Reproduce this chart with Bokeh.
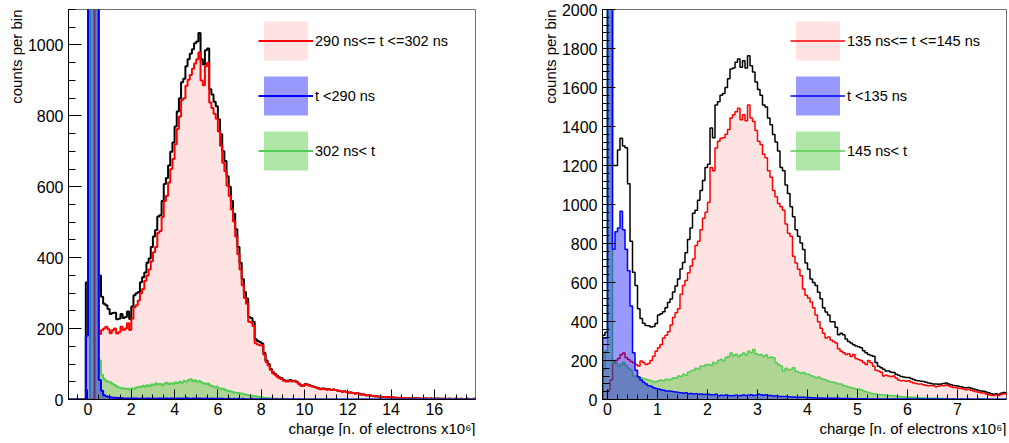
import numpy as np
from bokeh.plotting import figure
from bokeh.layouts import row
from bokeh.models import Range1d, SingleIntervalTicker, Title, Legend, LegendItem
from bokeh.embed import file_html
from bokeh.resources import INLINE

# ---------------- data: left panel (bins of 0.1 starting at -1.0) ----------------
L_EDGE_START = -1.0
L_BIN_WIDTH = 0.1
L_LABELS = ["290 ns<= t <=302 ns", "t <290 ns", "302 ns< t"]

L_TOTAL = [
    0, 0, 0, 0, 0, 0, 0, 0, 0, 330,
    3000, 3000, 3000, 3000, 3000, 350, 290, 270, 266, 255,
    241, 244, 245, 226, 228, 241, 230, 233, 248, 227,
    262, 294, 300, 303, 331, 345, 358, 386, 398, 430,
    460, 478, 516, 520, 560, 608, 625, 660, 699, 725,
    770, 812, 850, 895, 905, 940, 960, 975, 988, 1005,
    1010, 1034, 960, 945, 985, 990, 875, 860, 840, 827,
    790, 748, 700, 673, 630, 600, 560, 524, 480, 430,
    386, 340, 303, 285, 233, 230, 219, 170, 165, 162,
    158, 131, 110, 100, 86, 77, 72, 66, 62, 60,
    55, 53, 53, 55, 52, 53, 50, 45, 40, 39,
    44, 42, 40, 38, 36, 34, 32, 30, 31, 30,
    28, 29, 27, 28, 27, 25, 24, 22, 23, 21,
    20, 20, 18, 17, 18, 15, 14, 14, 12, 12,
    11, 10, 9, 9, 8, 8, 7, 7, 6, 6,
    6, 5, 5, 4, 5, 4, 4, 3, 4, 3,
    3, 4, 3, 3, 2, 3, 3, 2, 3, 2,
    2, 3, 2, 2, 2, 1, 2, 2, 1, 2,
    2, 1, 2, 1, 1, 2, 1, 1, 2, 1,
]
L_MID = [
    0, 0, 0, 0, 0, 0, 0, 0, 0, 0,
    0, 0, 0, 1500, 1200, 185, 195, 200, 205, 198,
    187, 195, 200, 186, 190, 205, 196, 200, 215, 196,
    228, 260, 266, 279, 300, 312, 335, 350, 367, 390,
    415, 430, 470, 475, 515, 560, 575, 612, 650, 678,
    720, 763, 798, 845, 850, 885, 902, 915, 933, 948,
    960, 979, 900, 886, 940, 950, 838, 822, 806, 792,
    756, 716, 668, 644, 603, 574, 536, 502, 459, 410,
    367, 322, 286, 270, 219, 217, 207, 159, 155, 153,
    152, 126, 106, 96, 83, 74, 70, 64, 60, 58,
    53, 51, 51, 53, 51, 52, 49, 44, 39, 38,
    43, 41, 39, 37, 35, 33, 31, 29, 30, 29,
    28, 29, 27, 28, 27, 25, 24, 22, 23, 21,
    20, 20, 18, 17, 18, 15, 14, 14, 12, 12,
    11, 10, 9, 9, 8, 8, 7, 7, 6, 6,
    6, 5, 5, 4, 5, 4, 4, 3, 4, 3,
    3, 4, 3, 3, 2, 3, 3, 2, 3, 2,
    2, 3, 2, 2, 2, 1, 2, 2, 1, 2,
    2, 1, 2, 1, 1, 2, 1, 1, 2, 1,
]
L_EARLY = [
    0, 0, 0, 0, 0, 0, 0, 0, 0, 180,
    3000, 3000, 3000, 3000, 3000, 55, 25, 12, 9, 7,
    6, 5, 5, 4, 4, 4, 3, 3, 3, 3,
    3, 3, 3, 2, 3, 3, 2, 3, 3, 2,
    3, 2, 3, 3, 2, 3, 3, 2, 3, 3,
    2, 3, 3, 2, 3, 4, 3, 2, 3, 3,
    2, 3, 2, 2, 3, 2, 2, 3, 2, 2,
    2, 2, 2, 1, 2, 2, 1, 2, 1, 2,
    1, 2, 1, 1, 1, 2, 1, 1, 1, 1,
    1, 1, 1, 1, 1, 0, 1, 1, 0, 1,
    1, 0, 1, 0, 1, 0, 0, 1, 0, 0,
    0, 0, 0, 0, 0, 0, 0, 0, 0, 0,
    0, 0, 0, 0, 0, 0, 0, 0, 0, 0,
    0, 0, 0, 0, 0, 0, 0, 0, 0, 0,
    0, 0, 0, 0, 0, 0, 0, 0, 0, 0,
    0, 0, 0, 0, 0, 0, 0, 0, 0, 0,
    0, 0, 0, 0, 0, 0, 0, 0, 0, 0,
    0, 0, 0, 0, 0, 0, 0, 0, 0, 0,
    0, 0, 0, 0, 0, 0, 0, 0, 0, 0,
]
L_LATE = [
    0, 0, 0, 0, 0, 0, 0, 0, 0, 0,
    0, 2000, 3000, 3000, 1500, 110, 70, 58, 52, 50,
    48, 44, 40, 36, 34, 32, 31, 30, 30, 28,
    32, 30, 34, 36, 35, 39, 36, 40, 38, 42,
    40, 45, 43, 44, 40, 45, 47, 43, 46, 44,
    48, 46, 50, 47, 52, 50, 55, 57, 52, 54,
    50, 52, 48, 46, 44, 45, 40, 38, 34, 36,
    32, 30, 30, 27, 25, 24, 22, 20, 19, 18,
    17, 16, 15, 13, 12, 11, 10, 9, 8, 7,
    6, 5, 4, 4, 3, 3, 2, 2, 2, 2,
    1, 2, 1, 1, 1, 1, 1, 1, 1, 1,
    1, 0, 1, 0, 1, 0, 0, 1, 0, 0,
    0, 0, 0, 0, 0, 0, 0, 0, 0, 0,
    0, 0, 0, 0, 0, 0, 0, 0, 0, 0,
    0, 0, 0, 0, 0, 0, 0, 0, 0, 0,
    0, 0, 0, 0, 0, 0, 0, 0, 0, 0,
    0, 0, 0, 0, 0, 0, 0, 0, 0, 0,
    0, 0, 0, 0, 0, 0, 0, 0, 0, 0,
    0, 0, 0, 0, 0, 0, 0, 0, 0, 0,
]

# ---------------- data: right panel (bins of 0.05 starting at -0.1) ----------------
R_EDGE_START = -0.1
R_BIN_WIDTH = 0.05
R_LABELS = ["135 ns<= t <=145 ns", "t <135 ns", "145 ns< t"]

R_TOTAL = [
    330, 345,
    3000, 3000, 1200, 1200, 1280, 1340, 1300, 1291, 1106, 811, 652, 584, 466, 416, 391, 380, 378, 372, 374, 390,
    433, 440, 450, 470, 498, 515, 551, 582, 618, 669, 702, 752, 820, 880, 955, 971, 1022, 1072, 1123, 1190,
    1207, 1392, 1342, 1510, 1527, 1560, 1569, 1600, 1645, 1695, 1700, 1729, 1746, 1704, 1737, 1700, 1763, 1712, 1679, 1628,
    1590, 1560, 1510, 1500, 1443, 1409, 1359, 1320, 1274, 1190, 1173, 1100, 1056, 988, 937, 870, 837, 803, 769, 700,
    668, 618, 600, 584, 550, 517, 470, 449, 433, 399, 399, 370, 332, 340, 332, 310, 298, 290, 281, 275,
    270, 265, 250, 240, 231, 226, 222, 190, 170, 163, 155, 146, 146, 140, 138, 130, 125, 118, 115, 113,
    113, 108, 102, 98, 96, 94, 92, 88, 84, 82, 79, 80, 78, 80, 82, 84, 79, 76, 72, 70,
    68, 65, 62, 60, 62, 58, 54, 50, 46, 44, 42, 38, 34, 30, 27, 30, 26, 32, 36, 34,
]
R_MID = [
    0, 0,
    50, 100, 190, 200, 210, 230, 239, 215, 205, 195, 189, 180, 172, 197, 190, 180, 185, 200, 222, 248,
    265, 282, 315, 330, 348, 382, 420, 445, 466, 540, 584, 610, 650, 685, 720, 790, 811, 870, 930, 960,
    1010, 1190, 1173, 1290, 1325, 1340, 1342, 1360, 1384, 1443, 1460, 1476, 1493, 1435, 1460, 1430, 1510, 1443, 1426, 1380,
    1325, 1308, 1258, 1240, 1173, 1140, 1072, 1040, 1005, 988, 971, 900, 853, 837, 735, 700, 668, 635, 567, 534,
    520, 500, 470, 433, 399, 365, 340, 315, 320, 305, 298, 290, 260, 248, 240, 231, 235, 220, 231, 210,
    205, 200, 190, 180, 200, 189, 170, 150, 146, 140, 121, 125, 121, 118, 121, 110, 100, 96, 98, 94,
    96, 90, 85, 82, 79, 80, 76, 72, 70, 72, 70, 66, 68, 72, 70, 74, 70, 66, 62, 60,
    58, 56, 54, 50, 52, 48, 44, 40, 37, 35, 33, 30, 25, 22, 20, 24, 20, 26, 29, 28,
]
R_EARLY = [
    315, 315,
    3000, 3000, 770, 860, 880, 965, 870, 770, 660, 480, 240, 150, 115, 100, 88, 80, 71, 68, 60, 56,
    54, 50, 48, 44, 44, 42, 40, 38, 36, 35, 32, 34, 30, 31, 28, 30, 27, 28, 26, 27,
    27, 25, 24, 27, 19, 22, 20, 23, 21, 19, 20, 22, 19, 20, 23, 21, 22, 24, 20, 22,
    27, 24, 22, 25, 21, 20, 18, 19, 17, 16, 15, 15, 14, 13, 13, 12, 12, 11, 11, 10,
    10, 9, 9, 8, 8, 8, 7, 7, 7, 6, 6, 6, 6, 5, 5, 5, 5, 5, 4, 4,
    4, 4, 4, 4, 3, 3, 3, 3, 3, 3, 3, 3, 3, 2, 2, 2, 2, 2, 2, 2,
    2, 2, 2, 2, 2, 2, 2, 2, 2, 2, 2, 1, 2, 2, 1, 2, 1, 2, 2, 1,
    1, 2, 1, 1, 2, 1, 1, 1, 2, 1, 1, 1, 1, 1, 1, 1, 1, 1, 1, 1,
]
R_LATE = [
    150, 250,
    3000, 3000, 185, 190, 170, 180, 190, 175, 160, 150, 120, 120, 115, 112, 108, 104, 100, 96, 90, 92,
    96, 100, 96, 104, 100, 104, 112, 110, 121, 118, 130, 125, 140, 146, 150, 160, 155, 172, 170, 178,
    180, 175, 190, 185, 200, 205, 198, 215, 220, 239, 225, 232, 220, 230, 238, 228, 247, 240, 256, 235,
    230, 231, 220, 228, 214, 218, 214, 190, 180, 170, 146, 160, 150, 155, 163, 145, 140, 135, 138, 130,
    130, 122, 118, 112, 115, 108, 104, 100, 94, 90, 88, 84, 80, 79, 72, 68, 64, 60, 58, 54,
    54, 50, 44, 40, 36, 32, 29, 28, 26, 24, 23, 22, 21, 21, 19, 18, 16, 15, 14, 13,
    13, 12, 11, 10, 9, 8, 8, 7, 7, 6, 6, 6, 5, 5, 5, 4, 4, 4, 4, 3,
    3, 3, 3, 3, 3, 2, 2, 2, 2, 2, 2, 2, 2, 1, 1, 1, 1, 1, 1, 1,
]

X_TITLE = "charge [n. of electrons x10\u2076]"
Y_TITLE = "counts per bin"

# ---------------- styling ----------------
FONT = "Liberation Sans"
TOP = 9
FRAME_H = 390


def step_xy(edges, vals):
    xs = np.repeat(edges, 2)
    ys = np.concatenate([[0.0], np.repeat(np.asarray(vals, dtype=float), 2), [0.0]])
    return xs, ys


def make_panel(edge_start, bin_w, total, mid, early, late, labels, xr, yr,
               xint, xminor, yminor, lw, frame_w, border_l, border_r, leg_x):
    n = len(total)
    edges = edge_start + bin_w * np.arange(n + 1)
    p = figure(output_backend="svg", toolbar_location=None,
               frame_width=frame_w, frame_height=FRAME_H,
               min_border_left=border_l, min_border_right=border_r,
               min_border_top=TOP, min_border_bottom=0,
               x_range=Range1d(*xr), y_range=Range1d(*yr),
               background_fill_color="white", border_fill_color="white",
               outline_line_color="#707070", outline_line_width=1)
    p.xgrid.visible = False
    p.ygrid.visible = False

    xs, ys = step_xy(edges, total)
    p.line(xs, ys, line_color="black", line_width=lw)
    xs, ys = step_xy(edges, mid)
    mid_fill = p.patch(xs, ys, fill_color="#ff0000", fill_alpha=0.11, line_alpha=0)
    mid_line = p.line(xs, ys, line_color="#ff0000", line_width=lw)
    xs, ys = step_xy(edges, late)
    late_fill = p.patch(xs, ys, fill_color="#34c01e", fill_alpha=0.4, line_alpha=0)
    late_line = p.line(xs, ys, line_color="#55cc55", line_width=lw)
    xs, ys = step_xy(edges, early)
    early_fill = p.patch(xs, ys, fill_color="#0000ff", fill_alpha=0.4, line_alpha=0)
    early_line = p.line(xs, ys, line_color="#0000ff", line_width=lw)

    items = [
        LegendItem(label=labels[0], renderers=[mid_fill, mid_line]),
        LegendItem(label=labels[1], renderers=[early_fill, early_line]),
        LegendItem(label=labels[2], renderers=[late_fill, late_line]),
    ]
    gh, sp = 49, 6
    leg_h = 3 * gh + 2 * sp
    legend = Legend(items=items, location=(leg_x, FRAME_H - 7 - leg_h),
                    padding=0, margin=0, spacing=sp,
                    glyph_width=55, glyph_height=gh, label_standoff=2,
                    label_text_font=FONT, label_text_font_size="14.5px",
                    label_text_color="black",
                    border_line_alpha=0, background_fill_alpha=0)
    p.add_layout(legend)

    p.xaxis.ticker = SingleIntervalTicker(interval=xint, num_minor_ticks=xminor)
    p.yaxis.ticker = SingleIntervalTicker(interval=200, num_minor_ticks=yminor)
    for ax in p.xaxis:
        ax.major_tick_in = 10
        ax.major_tick_out = 0
        ax.minor_tick_in = 5
        ax.minor_tick_out = 0
        ax.major_label_standoff = 3
    for ax in p.yaxis:
        ax.major_tick_in = 13
        ax.major_tick_out = 0
        ax.minor_tick_in = 7
        ax.minor_tick_out = 0
        ax.major_label_standoff = 5
    for ax in (p.xaxis[0], p.yaxis[0]):
        ax.axis_line_color = "black"
        ax.major_tick_line_color = "black"
        ax.minor_tick_line_color = "black"
        ax.major_label_text_font = FONT
        ax.major_label_text_font_size = "16px"
        ax.major_label_text_color = "black"

    p.add_layout(Title(text=X_TITLE, align="right", text_font=FONT,
                       text_font_size="15px", text_font_style="normal",
                       text_color="black", standoff=0, offset=0), "below")
    p.add_layout(Title(text=Y_TITLE, align="right", text_font=FONT,
                       text_font_size="15px", text_font_style="normal",
                       text_color="black", standoff=0, offset=0), "left")
    return p


p1 = make_panel(L_EDGE_START, L_BIN_WIDTH, L_TOTAL, L_MID, L_EARLY, L_LATE, L_LABELS,
                (-0.9, 17.9), (0, 1100), 2, 4, 4, 2, 407, 68, 45, 190)
p2 = make_panel(R_EDGE_START, R_BIN_WIDTH, R_TOTAL, R_MID, R_EARLY, R_LATE, R_LABELS,
                (-0.1, 7.98), (0, 2000), 1, 5, 5, 1.5, 404, 82, 2, 188)

layout = row(p1, p2)
open("out.html", "w").write(file_html(layout, INLINE))
